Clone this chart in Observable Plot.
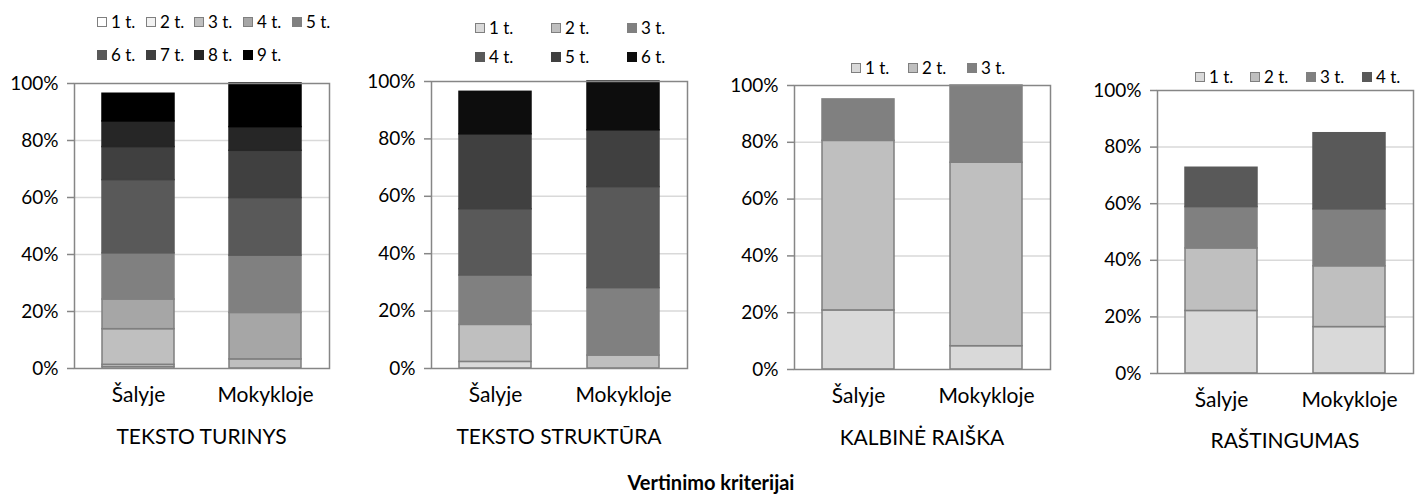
<!DOCTYPE html>
<html>
<head>
<meta charset="utf-8">
<script src="https://cdn.jsdelivr.net/npm/d3@7"></script>
<script src="https://cdn.jsdelivr.net/npm/@observablehq/plot@0.6"></script>
<style>
  html, body { margin: 0; padding: 0; background: #fff; }
  #root { position: relative; width: 1422px; height: 495px; overflow: hidden; font-family: Lato, "Open Sans", sans-serif; color: #000; }
  .abs { position: absolute; }
  .leg { position: absolute; display: flex; align-items: center; font-size: 17px; line-height: 20px; white-space: nowrap; transform: translateY(-50%); }
  .sw { width: 10px; height: 10px; box-sizing: border-box; margin-right: 4px; }
  .ttl { position: absolute; width: 320px; text-align: center; font-size: 21px; line-height: 24px; }
</style>
</head>
<body>
<div id="root"></div>
<script>
// ---------------- DATA ----------------
const categories = ["Šalyje", "Mokykloje"];

const p1Title = "TEKSTO TURINYS";
const p1Levels = ["1 t.", "2 t.", "3 t.", "4 t.", "5 t.", "6 t.", "7 t.", "8 t.", "9 t."];
const p1Salyje = [0.6, 0.7, 12.5, 10.4, 16.2, 25.7, 11.6, 9.0, 9.7];
const p1Mokykloje = [0, 0, 3.2, 16.3, 20.1, 20.2, 16.6, 8.3, 15.3];
const p1Colors = ["#ffffff", "#f2f2f2", "#bfbfbf", "#a6a6a6", "#808080", "#595959", "#404040", "#262626", "#000000"];

const p2Title = "TEKSTO STRUKTŪRA";
const p2Levels = ["1 t.", "2 t.", "3 t.", "4 t.", "5 t.", "6 t."];
const p2Salyje = [2.3, 12.9, 17.2, 23.1, 26.1, 14.8];
const p2Mokykloje = [0, 4.5, 23.5, 35.2, 19.8, 17.0];
const p2Colors = ["#d9d9d9", "#bfbfbf", "#808080", "#595959", "#404040", "#0d0d0d"];

const p3Title = "KALBINĖ RAIŠKA";
const p3Levels = ["1 t.", "2 t.", "3 t."];
const p3Salyje = [20.8, 59.7, 14.6];
const p3Mokykloje = [8.2, 64.6, 27.2];
const p3Colors = ["#d9d9d9", "#bfbfbf", "#808080"];

const p4Title = "RAŠTINGUMAS";
const p4Levels = ["1 t.", "2 t.", "3 t.", "4 t."];
const p4Salyje = [22.1, 22.1, 14.6, 13.9];
const p4Mokykloje = [16.4, 21.5, 20.1, 26.9];
const p4Colors = ["#d9d9d9", "#bfbfbf", "#808080", "#595959"];

const yTicks = [0, 20, 40, 60, 80, 100];
const mainTitle = "Vertinimo kriterijai";

// ---------------- LAYOUT ----------------
const panels = [
  { title: p1Title, levels: p1Levels, a: p1Salyje, b: p1Mokykloje, colors: p1Colors,
    frame: { l: 74, r: 329, t: 83, b: 368 }, titleY: 424,
    legend: [[97, 22], [146, 22], [194, 22], [243, 22], [292, 22], [97, 55], [146, 55], [194, 55], [243, 55]] },
  { title: p2Title, levels: p2Levels, a: p2Salyje, b: p2Mokykloje, colors: p2Colors,
    frame: { l: 431, r: 687, t: 81, b: 368 }, titleY: 424,
    legend: [[475, 28], [551, 28], [627, 28], [475, 57], [551, 57], [627, 57]] },
  { title: p3Title, levels: p3Levels, a: p3Salyje, b: p3Mokykloje, colors: p3Colors,
    frame: { l: 794, r: 1050, t: 85, b: 369 }, titleY: 425,
    legend: [[851, 68], [908, 68], [967, 68]] },
  { title: p4Title, levels: p4Levels, a: p4Salyje, b: p4Mokykloje, colors: p4Colors,
    frame: { l: 1157, r: 1413, t: 90, b: 373 }, titleY: 428,
    legend: [[1195, 77], [1250, 77], [1306, 77], [1362, 77]] }
];

const ML = 70, MR = 2, MT = 10, MB = 40;
const root = document.getElementById("root");
const borderOf = c => (d3.hsl(c).l > 0.6 ? "#7f7f7f" : c);

for (const p of panels) {
  const rows = [];
  categories.forEach((cat, ci) => {
    const vals = ci === 0 ? p.a : p.b;
    p.levels.forEach((lev, li) => {
      rows.push({ cat, level: lev, value: vals[li], fill: p.colors[li], stroke: borderOf(p.colors[li]) });
    });
  });

  const fw = p.frame.r - p.frame.l, fh = p.frame.b - p.frame.t;
  const chart = Plot.plot({
    width: ML + fw + MR,
    height: MT + fh + MB,
    marginLeft: ML, marginRight: MR, marginTop: MT, marginBottom: MB,
    style: { fontFamily: "Lato, 'Open Sans', sans-serif", color: "#000", background: "transparent", overflow: "visible" },
    x: { domain: categories, paddingInner: 0.435, paddingOuter: 0.2175, align: 0.5, label: null },
    y: { domain: [0, 100], label: null },
    color: { type: "identity" },
    marks: [
      Plot.gridY([20, 40, 60, 80], { stroke: "#d9d9d9", strokeOpacity: 1, strokeWidth: 1.5 }),
      Plot.barY(rows, Plot.stackY({ x: "cat", y: "value", fill: "fill", stroke: "stroke", strokeWidth: 1.5, inset: 0 })),
      Plot.frame({ stroke: "#868686", strokeWidth: 1.5 }),
      Plot.axisY(yTicks, { tickFormat: d => d + "%", tickSize: 7, tickPadding: 9, stroke: "#868686", strokeWidth: 1.5, fontSize: 19, fill: "#000" }),
      Plot.axisX({ tickSize: 0, tickPadding: 19, fontSize: 21, fill: "#000" })
    ]
  });
  chart.style.position = "absolute";
  chart.style.left = (p.frame.l - ML) + "px";
  chart.style.top = (p.frame.t - MT) + "px";
  root.appendChild(chart);

  // legend
  p.levels.forEach((lev, i) => {
    const [x, y] = p.legend[i];
    const item = document.createElement("div");
    item.className = "leg";
    item.style.left = x + "px";
    item.style.top = y + "px";
    const sw = document.createElement("div");
    sw.className = "sw";
    sw.style.background = p.colors[i];
    sw.style.border = "1px solid " + borderOf(p.colors[i]);
    const tx = document.createElement("span");
    tx.textContent = lev;
    item.appendChild(sw);
    item.appendChild(tx);
    root.appendChild(item);
  });

  // panel title
  const t = document.createElement("div");
  t.className = "ttl";
  t.textContent = p.title;
  t.style.left = ((p.frame.l + p.frame.r) / 2 - 160) + "px";
  t.style.top = p.titleY + "px";
  root.appendChild(t);
}

const mt = document.createElement("div");
mt.className = "abs";
mt.style.left = "0px";
mt.style.width = "1422px";
mt.style.top = "470px";
mt.style.textAlign = "center";
mt.style.fontSize = "20px";
mt.style.lineHeight = "24px";
mt.style.fontWeight = "bold";
mt.textContent = mainTitle;
root.appendChild(mt);
</script>
</body>
</html>
